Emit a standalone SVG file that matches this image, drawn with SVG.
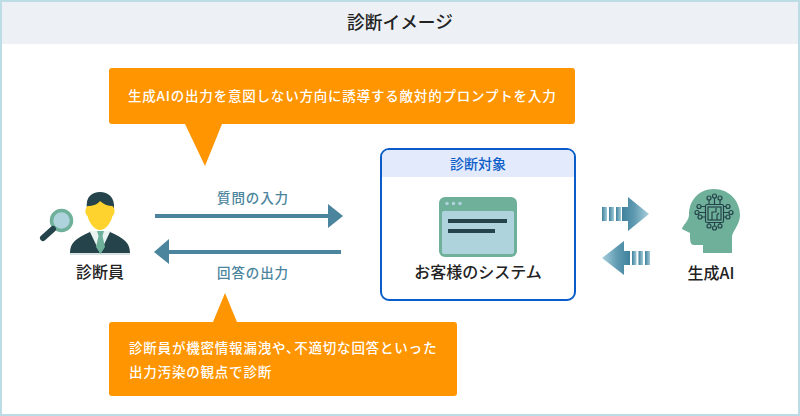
<svg xmlns="http://www.w3.org/2000/svg" width="800" height="416" viewBox="0 0 800 416">
<style>
text{font-family:"Noto Sans CJK JP","Liberation Sans",sans-serif;font-weight:500}
.t{font-size:16px;fill:#222;text-anchor:middle}
.w{font-size:13.5px;fill:#fff;letter-spacing:.8px}
.b{font-size:13.5px;fill:#4b849d;text-anchor:middle;letter-spacing:.9px}
.or{fill:#ff9500}
.gr{fill:#6fb09a}
.dk{fill:#24434a}
</style>
<defs>
<linearGradient id="gS"><stop offset="0" stop-color="#3f819d"/><stop offset="1" stop-color="#a3ccd9"/></linearGradient>
<linearGradient id="gR"><stop offset="0" stop-color="#3f819d"/><stop offset=".45" stop-color="#5f9ab1"/><stop offset="1" stop-color="#a8d0dc"/></linearGradient>
<linearGradient id="gL" x1="1" x2="0"><stop offset="0" stop-color="#3f819d"/><stop offset=".45" stop-color="#5f9ab1"/><stop offset="1" stop-color="#a8d0dc"/></linearGradient>
</defs>
<rect x="1" y="1" width="798" height="414" fill="#fff" stroke="#bcdde6" stroke-width="2"/>
<rect x="2" y="2" width="796" height="42" fill="#edf1f5"/>
<text x="400" y="29" text-anchor="middle" font-size="17.700" fill="#222">診断イメージ</text>

<g id="callout-top">
<path class="or" d="M112 68H572a3 3 0 0 1 3 3V121a3 3 0 0 1 -3 3H222L205 166L185 124H112a3 3 0 0 1 -3 -3V71a3 3 0 0 1 3 -3Z"/>
<text class="w" x="128" y="101">生成AIの出力を意図しない方向に誘導する敵対的プロンプトを入力</text>
</g>
<g id="callout-bottom">
<path class="or" d="M112 322H213L225 293L237 322H454a3 3 0 0 1 3 3V393a3 3 0 0 1 -3 3H112a3 3 0 0 1 -3 -3V325a3 3 0 0 1 3 -3Z"/>
<text class="w" x="129" y="353">診断員が機密情報漏洩や、<tspan dx="-6">不適切な回答といった</tspan></text>
<text class="w" x="129" y="377">出力汚染の観点で診断</text>
</g>

<g id="person">
<rect x="70" y="253" width="60" height="2" fill="#d8e3e3"/>
<path d="M89 231H111L112 253H88Z" fill="#eaf3f2"/>
<path class="dk" d="M70 253C70 243 76 238 90 232L100 253L110 232C124 238 130 243 130 253Z"/>
<path class="gr" d="M97 231H104L102.500 236L105 247L100.500 254L96 247L98.500 236Z"/>
<path class="dk" d="M87 209C85 197 92 192 100 192C108 192 115 197 114 209Z"/>
<path d="M87.500 206C93 206 98 204 100 201C103 204 108 206 112.500 206C115 208 115.500 214 112.500 216C110.500 224 105 230 100 230C95 230 89.500 224 87.500 216C84.500 214 85 208 87.500 206Z" fill="#ffd32e"/>
<circle cx="61.500" cy="220.500" r="10" fill="#afd3dd" stroke="#6fb09a" stroke-width="3.500"/>
<path d="M53 229L43 238" stroke="#24434a" stroke-width="6" stroke-linecap="round"/>
<text class="t" x="100" y="278">診断員</text>
</g>

<g id="connectors">
<path d="M155 216H329" stroke="#4b849d" stroke-width="4" fill="none"/>
<path d="M328 204L343 216L328 228Z" fill="#4b849d"/>
<path d="M341 252H168" stroke="#4b849d" stroke-width="4" fill="none"/>
<path d="M169 239L154 252L169 264Z" fill="#4b849d"/>
<text class="b" x="253" y="203">質問の入力</text>
<text class="b" x="253" y="278">回答の出力</text>
<rect x="602" y="207" width="5" height="14" fill="url(#gS)"/><rect x="609" y="207" width="5" height="14" fill="url(#gS)"/><rect x="616" y="207" width="5" height="14" fill="url(#gS)"/>
<path d="M622 207H628V197L649 214L628 231V221H622Z" fill="url(#gR)"/>
<rect x="632" y="251" width="4.500" height="14" fill="url(#gS)"/><rect x="638.500" y="251" width="4.500" height="14" fill="url(#gS)"/><rect x="645" y="251" width="5" height="14" fill="url(#gS)"/>
<path d="M630 251H624V241L602 258L624 275V265H630Z" fill="url(#gL)"/>
</g>

<g id="target">
<rect x="381" y="149" width="194" height="151" rx="8" fill="#fff" stroke="#0a5cc8" stroke-width="2"/>
<path d="M382 177V157a7 7 0 0 1 7 -7H567a7 7 0 0 1 7 7V177Z" fill="#e3eafc"/>
<text x="478" y="169" text-anchor="middle" font-size="14" fill="#0a5cc8">診断対象</text>
<rect x="439" y="197" width="78" height="60" rx="6" class="gr"/>
<rect x="442" y="211" width="72" height="43" rx="2" fill="#afd3dd"/>
<circle cx="447" cy="203.500" r="1.800" fill="#afd3dd"/><circle cx="453.500" cy="203.500" r="1.800" fill="#afd3dd"/><circle cx="460" cy="203.500" r="1.800" fill="#afd3dd"/>
<rect x="448" y="219" width="59" height="4" class="dk"/>
<rect x="448" y="229" width="47" height="4" class="dk"/>
<text class="t" x="478" y="278">お客様のシステム</text>
</g>

<g id="ai">
<path class="gr" d="M714 189C729 189 740 201 740 215C740 224 734 229 732 236V253H703V245H694C690 245 690 241 690 233L682 229C682 226 689 221 689 215C689 200 699 189 714 189Z"/>
<g fill="none" stroke="#24434a" stroke-width="1.200">
<rect x="705.500" y="204.500" width="18" height="18" rx="1.500"/>
<rect x="708" y="207" width="13" height="13"/>
<path d="M709 200V204M714.500 198V204M720 200V204M709 223V224.500M714.500 223V226M720 223V224.500M701 206.500H705M699 212.500H705M702 217H705M724 206.500H726M724 212.500H729M724 217H726M712 220V212H716V208M717 220V215L719 213"/>
<circle cx="709" cy="198" r="2"/><circle cx="714.500" cy="196" r="2"/><circle cx="720" cy="198" r="2"/>
<circle cx="709" cy="226" r="2"/><circle cx="714.500" cy="228" r="2"/><circle cx="720" cy="226" r="2"/>
<circle cx="699" cy="206.500" r="2"/><circle cx="697" cy="212.500" r="2"/><circle cx="700" cy="217" r="2"/>
<circle cx="728" cy="206.500" r="2"/><circle cx="731" cy="212.500" r="2"/><circle cx="728" cy="217" r="2"/>
</g>
<text class="t" x="711" y="279">生成AI</text>
</g>
</svg>
